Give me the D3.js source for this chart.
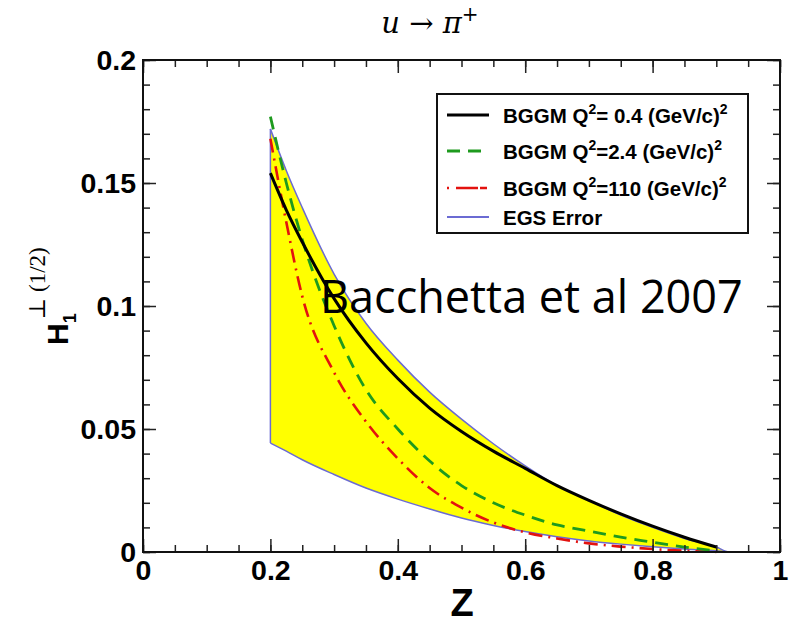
<!DOCTYPE html>
<html lang="en">
<head>
<meta charset="utf-8">
<script src="https://cdn.jsdelivr.net/npm/d3@7"></script>
<style>
    body { margin: 0; background: #fff; }
    .axis text {
        font-family: "Liberation Sans", Arial, sans-serif;
        font-weight: bold;
        font-size: 28.5px;
        fill: #000;
    }
    .axis line { stroke: #222; stroke-width: 1.5; }
    .axis path { display: none; }
</style>
</head>
<body>
<script>
// z grid for the three BGGM curves
const zGrid = [0.2, 0.225, 0.25, 0.3, 0.35, 0.4, 0.45, 0.5, 0.55, 0.6, 0.65, 0.7, 0.75, 0.8, 0.85, 0.9];
const hQ04  = [0.154, 0.139, 0.126, 0.103, 0.085, 0.0705, 0.0585, 0.049, 0.041, 0.034, 0.027, 0.021, 0.0155, 0.0105, 0.006, 0.002];
const hQ24  = [0.177, 0.150, 0.127, 0.092, 0.066, 0.050, 0.037, 0.027, 0.020, 0.015, 0.011, 0.0085, 0.006, 0.004, 0.002, 0.0005];
const hQ110 = [0.168, 0.134, 0.104, 0.073, 0.053, 0.038, 0.026, 0.018, 0.012, 0.008, 0.0055, 0.0035, 0.0022, 0.0012, 0.0005, 0.0];

// EGS error band
const bandZ     = [0.2, 0.225, 0.25, 0.3, 0.35, 0.4, 0.45, 0.5, 0.55, 0.6, 0.65, 0.7, 0.75, 0.8, 0.85, 0.9, 0.92, 0.96, 1.0];
const bandUpper = [0.172, 0.155, 0.140, 0.113, 0.093, 0.078, 0.065, 0.054, 0.044, 0.035, 0.027, 0.021, 0.015, 0.010, 0.0055, 0.002, 0.0, 0.0, 0.0];
const bandLower = [0.0443, 0.041, 0.0375, 0.0315, 0.026, 0.0215, 0.0175, 0.0138, 0.0108, 0.0083, 0.0062, 0.0045, 0.0032, 0.0021, 0.0012, 0.0005, 0.0, 0.0, 0.0];

const xTicks = [0, 0.2, 0.4, 0.6, 0.8, 1];
const xTickLabels = ["0", "0.2", "0.4", "0.6", "0.8", "1"];
const yTicks = [0, 0.05, 0.1, 0.15, 0.2];
const yTickLabels = ["0", "0.05", "0.1", "0.15", "0.2"];

const legendLabels = [
    ["BGGM Q", "= 0.4 (GeV/c)"],
    ["BGGM Q", "=2.4 (GeV/c)"],
    ["BGGM Q", "=110 (GeV/c)"],
    ["EGS Error", null]
];

const w = 808, h = 627;
const padL = 143, padR = 780, padT = 60, padB = 552;

const svg = d3.select("body").append("svg")
    .attr("width", w)
    .attr("height", h);

const xScale = d3.scaleLinear().domain([0, 1]).range([padL, padR]);
const yScale = d3.scaleLinear().domain([0, 0.2]).range([padB, padT]);

// band
const bandData = bandZ.map((z, i) => ({z: z, lo: bandLower[i], hi: bandUpper[i]}));
svg.append("path")
    .datum(bandData)
    .attr("fill", "#ffff00")
    .attr("d", d3.area()
        .x((d) => xScale(d.z))
        .y0((d) => yScale(d.lo))
        .y1((d) => yScale(d.hi))
        .curve(d3.curveMonotoneX));

const bandLine = (key) => d3.line()
    .x((d) => xScale(d.z))
    .y((d) => yScale(d[key]))
    .curve(d3.curveMonotoneX);

svg.append("path").datum(bandData)
    .attr("fill", "none").attr("stroke", "#6b6bd3").attr("stroke-width", 1.5)
    .attr("d", bandLine("hi"));
svg.append("path").datum(bandData)
    .attr("fill", "none").attr("stroke", "#6b6bd3").attr("stroke-width", 1.5)
    .attr("d", bandLine("lo"));
svg.append("path").datum([bandData[0], bandData[0]])
    .attr("fill", "none").attr("stroke", "#6b6bd3").attr("stroke-width", 1.5)
    .attr("d", d3.line().x((d) => xScale(d.z)).y((d, i) => yScale(i ? d.hi : d.lo)));

// curves
const curveLine = d3.line()
    .x((d) => xScale(d[0]))
    .y((d) => yScale(d[1]))
    .curve(d3.curveMonotoneX);

const series = [
    {vals: hQ110, color: "#e3120f", width: 2.6, dash: "14,6,2,6"},
    {vals: hQ24,  color: "#1e9a1e", width: 2.8, dash: "13,8"},
    {vals: hQ04,  color: "#000000", width: 3,   dash: null}
];
series.forEach((s) => {
    svg.append("path")
        .datum(zGrid.map((z, i) => [z, s.vals[i]]))
        .attr("fill", "none")
        .attr("stroke", s.color)
        .attr("stroke-width", s.width)
        .attr("stroke-dasharray", s.dash)
        .attr("d", curveLine);
});

// axes: major and minor, ticks inward on all four sides
const xMinor = d3.range(0, 1.0001, 0.05);
const yMinor = d3.range(0, 0.2001, 0.01);

svg.append("g").attr("class", "axis")
    .attr("transform", "translate(0," + padB + ")")
    .call(d3.axisBottom(xScale).tickValues(xMinor).tickSize(-7).tickFormat(""));
svg.append("g").attr("class", "axis")
    .attr("transform", "translate(0," + padB + ")")
    .call(d3.axisBottom(xScale).tickValues(xTicks).tickSize(-13).tickPadding(8)
        .tickFormat((d, i) => xTickLabels[i]));
svg.append("g").attr("class", "axis")
    .attr("transform", "translate(0," + padT + ")")
    .call(d3.axisTop(xScale).tickValues(xMinor).tickSize(-7).tickFormat(""));
svg.append("g").attr("class", "axis")
    .attr("transform", "translate(0," + padT + ")")
    .call(d3.axisTop(xScale).tickValues(xTicks).tickSize(-13).tickFormat(""));

svg.append("g").attr("class", "axis")
    .attr("transform", "translate(" + padL + ",0)")
    .call(d3.axisLeft(yScale).tickValues(yMinor).tickSize(-7).tickFormat(""));
svg.append("g").attr("class", "axis")
    .attr("transform", "translate(" + padL + ",0)")
    .call(d3.axisLeft(yScale).tickValues(yTicks).tickSize(-13).tickPadding(7)
        .tickFormat((d, i) => yTickLabels[i]));
svg.append("g").attr("class", "axis")
    .attr("transform", "translate(" + padR + ",0)")
    .call(d3.axisRight(yScale).tickValues(yMinor).tickSize(-7).tickFormat(""));
svg.append("g").attr("class", "axis")
    .attr("transform", "translate(" + padR + ",0)")
    .call(d3.axisRight(yScale).tickValues(yTicks).tickSize(-13).tickFormat(""));

svg.append("rect")
    .attr("x", padL).attr("y", padT)
    .attr("width", padR - padL).attr("height", padB - padT)
    .attr("fill", "none").attr("stroke", "#111").attr("stroke-width", 2);

// title
const title = svg.append("text")
    .attr("x", 430).attr("y", 33)
    .attr("text-anchor", "middle")
    .attr("font-family", "'DejaVu Serif', 'Liberation Serif', serif")
    .attr("font-size", 29);
title.append("tspan").attr("font-style", "italic").text("u");
title.append("tspan").text(" \u2192 ");
title.append("tspan").attr("font-style", "italic").text("\u03c0");
title.append("tspan").attr("dy", -12).attr("font-size", 20).text("+");

// x label
svg.append("text")
    .attr("x", 462).attr("y", 616)
    .attr("text-anchor", "middle")
    .attr("font-family", "'Liberation Sans', Arial, sans-serif")
    .attr("font-weight", "bold")
    .attr("font-size", 38)
    .text("Z");

// y label
const yLab = svg.append("text")
    .attr("transform", "translate(68,345) rotate(-90)")
    .attr("font-family", "'Liberation Sans', Arial, sans-serif")
    .attr("font-weight", "bold")
    .attr("font-size", 30);
yLab.append("tspan").text("H");
yLab.append("tspan").attr("font-size", 18).attr("dy", 8).text("1");
yLab.append("tspan")
    .attr("dx", -6).attr("dy", -31)
    .attr("font-weight", "normal")
    .attr("font-family", "'Liberation Serif', 'DejaVu Serif', serif")
    .attr("font-size", 23)
    .text("\u22a5 (1/2)");

// legend
const lg = svg.append("g");
lg.append("rect")
    .attr("x", 437).attr("y", 94).attr("width", 311).attr("height", 139)
    .attr("fill", "#fff").attr("stroke", "#111").attr("stroke-width", 2);
const legendY = [115, 151, 188, 217];
const legendStyles = [series[2], series[1], series[0], {color: "#6b6bd3", width: 2, dash: null}];
legendLabels.forEach((lab, i) => {
    const st = legendStyles[i];
    lg.append("line")
        .attr("x1", 447).attr("x2", 489)
        .attr("y1", legendY[i]).attr("y2", legendY[i])
        .attr("stroke", st.color).attr("stroke-width", st.width)
        .attr("stroke-dasharray", i === 2 ? "2,7,22" : st.dash);
    const t = lg.append("text")
        .attr("x", 503).attr("y", legendY[i] + 8)
        .attr("font-family", "'Liberation Sans', Arial, sans-serif")
        .attr("font-weight", "bold")
        .attr("font-size", 20.5);
    t.append("tspan").text(lab[0]);
    if (lab[1]) {
        t.append("tspan").attr("font-size", 14).attr("dy", -9).text("2");
        t.append("tspan").attr("dy", 9).text(lab[1]);
        t.append("tspan").attr("font-size", 14).attr("dy", -9).text("2");
    }
});

// overlay annotation
svg.append("text")
    .attr("x", 320).attr("y", 313)
    .attr("font-family", "'Open Sans', 'Noto Sans', sans-serif")
    .attr("font-size", 45)
    .attr("fill", "#000")
    .text("Bacchetta et al 2007");
</script>
</body>
</html>
